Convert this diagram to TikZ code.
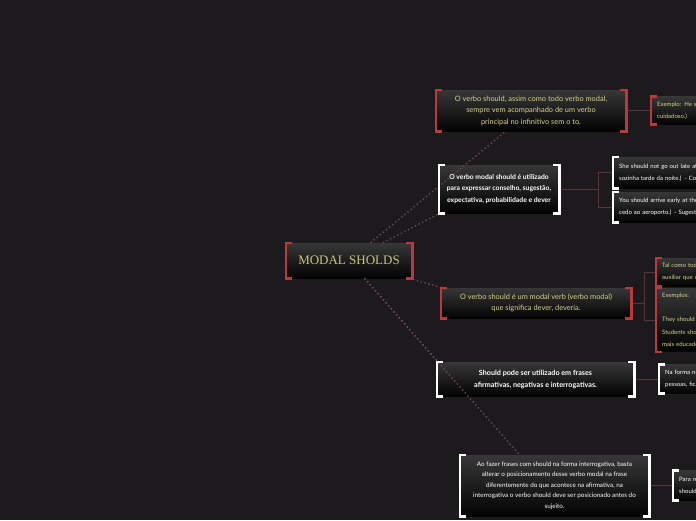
\documentclass[tikz,border=0pt]{standalone}
\usepackage{fontspec}
\setmainfont{Liberation Serif}
\newfontfamily\handfont{Lato}
\usetikzlibrary{positioning}

\definecolor{bgc}{HTML}{1C1A1D}
\definecolor{redbr}{HTML}{B93A3D}
\definecolor{yelt}{HTML}{D6D28E}
\definecolor{titlec}{HTML}{C9C47E}
\definecolor{linec}{HTML}{553539}
\definecolor{dotc}{HTML}{6A4650}
\definecolor{boxtop}{HTML}{373737}
\definecolor{boxbot}{HTML}{030303}

\newcommand\brk[2]{%
  \draw[bracket, #2] ([xshift=5pt]#1.north west) -| ([xshift=-1pt]#1.south west) -- ++(6pt,0);
  \draw[bracket, #2] ([xshift=-5pt]#1.north east) -| ([xshift=1pt]#1.south east) -- ++(-6pt,0);
}

\begin{document}
\begin{tikzpicture}[x=1pt, y=-1pt,
    box/.style={top color=boxtop, bottom color=boxbot, inner sep=3pt, align=center},
    mainred/.style={box, text=yelt, font=\handfont\fontsize{7.4}{11.5}\selectfont},
    mainwhite/.style={box, text=white, font=\handfont\bfseries\fontsize{6.8}{11.5}\selectfont},
    leaf/.style={box, anchor=west, align=left, text width=150pt, inner sep=5pt,
      font=\handfont\fontsize{6}{12.5}\selectfont},
    bracket/.style={line width=2.6pt},
    fork/.style={linec, line width=0.8pt},
    dots/.style={dotc, line width=1.4pt, dash pattern=on 1.4pt off 2.6pt}]

  \useasboundingbox (0,0) rectangle (696,520);
  \fill[bgc] (0,0) rectangle (696,520);
  \clip (0,0) rectangle (696,520);

  \node[box, text=titlec, font=\fontsize{13}{15}\selectfont, minimum width=124pt, minimum height=35pt] (modal) at (349,260.5) {MODAL SHOLDS};

  \node[mainred, minimum width=188pt, minimum height=41pt] (infinitivo) at (531,110.5)
    {O verbo should, assim como todo verbo modal,\\ sempre vem acompanhado de um verbo\\ principal no infinitivo sem o to.};
  \node[mainwhite, minimum width=118pt, minimum height=48pt] (uso) at (499,189)
    {O verbo modal should é utilizado\\ para expressar conselho, sugestão,\\ expectativa, probabilidade e dever};
  \node[mainred, minimum width=188pt, minimum height=30pt] (dever) at (536,303)
    {O verbo should é um modal verb (verbo modal)\\ que significa dever, deveria.};
  \node[mainwhite, font=\handfont\bfseries\fontsize{7.2}{12}\selectfont, minimum width=195pt, minimum height=34pt] (frases) at (535.5,379)
    {Should pode ser utilizado em frases\\ afirmativas, negativas e interrogativas.};
  \node[mainwhite, font=\handfont\fontsize{6.3}{10.5}\selectfont, minimum width=187pt, minimum height=61pt] (interrog) at (554.5,485.5)
    {Ao fazer frases com should na forma interrogativa, basta\\ alterar o posicionamento desse verbo modal na frase\\ diferentemente do que acontece na afirmativa, na\\ interrogativa o verbo should deve ser posicionado antes do\\ sujeito.};

  \node[leaf, text=yelt, minimum height=25pt] (exinf) at (652,110.5)
    {Exemplo: He should\\ cuidadoso.)};
  \node[leaf, text=white, minimum height=31pt] (conselho) at (614,172.5)
    {She should not go out late at\\ sozinha tarde da noite.) - Conselho};
  \node[leaf, text=white, minimum height=30pt] (sugestao) at (614,207)
    {You should arrive early at the\\ cedo ao aeroporto.) - Sugestão};
  \node[leaf, text=yelt, minimum height=28pt] (auxiliar) at (657,272)
    {Tal como todo\\ auxiliar que o};
  \node[leaf, text=yelt, minimum height=60pt] (exemplos) at (657,320)
    {Exemplos:\\[12pt] They should\\ Students should\\ mais educados};
  \node[leaf, text=white, minimum height=29pt] (negativa) at (660,379)
    {Na forma negativa\\ pessoas, ficando};
  \node[leaf, text=white, minimum height=30pt] (resposta) at (674,485.5)
    {Para responder\\ should};

  \draw[dots] (modal) -- (infinitivo);
  \draw[dots] (modal) -- (uso.south west);
  \draw[dots] (modal) -- (dever.north west);
  \draw[dots] (modal) -- (frases.north west);
  \draw[dots] (modal) -- ([xshift=-35pt]interrog.north);

  \coordinate (f2) at (598,189);
  \coordinate (f3) at (644,303);
  \draw[fork] (infinitivo.east) -- (exinf.west);
  \draw[fork] (uso.east) -- (f2) |- (conselho.west);
  \draw[fork] (f2) |- (sugestao.west);
  \draw[fork] (dever.east) -- (f3) |- (auxiliar.west);
  \draw[fork] (f3) |- (exemplos.west);
  \draw[fork] (frases.east) -- (negativa.west);
  \draw[fork] (interrog.east) -- (resposta.west);

  \brk{modal}{redbr}
  \brk{infinitivo}{redbr}
  \brk{dever}{redbr}
  \brk{exinf}{redbr}
  \brk{auxiliar}{redbr}
  \brk{exemplos}{redbr}
  \brk{uso}{white}
  \brk{frases}{white}
  \brk{interrog}{white}
  \brk{conselho}{white}
  \brk{sugestao}{white}
  \brk{negativa}{white}
  \brk{resposta}{white}
\end{tikzpicture}
\end{document}
